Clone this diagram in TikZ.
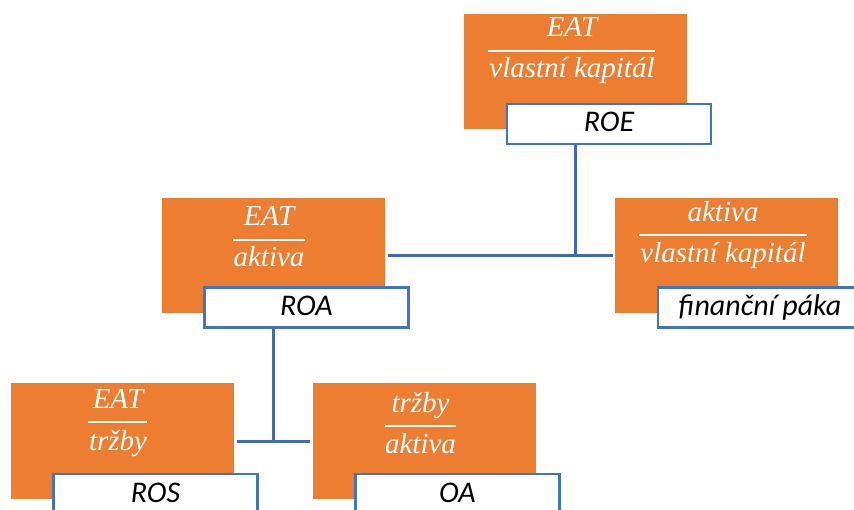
\documentclass[tikz,border=0pt]{standalone}
\usepackage{fontspec}
\setmainfont{Liberation Serif}
\newfontfamily\lblfont{Carlito}
\definecolor{boxorange}{HTML}{ED7D31}
\definecolor{boxblue}{HTML}{4472C4}
\definecolor{lineblue}{HTML}{4169B4}
\begin{document}
\begin{tikzpicture}[x=1pt,y=-1pt,
  obox/.style={rectangle,fill=boxorange,draw=none,inner sep=0pt,minimum width=223pt,minimum height=115pt},
  wbox/.style={rectangle,fill=white,draw=boxblue,line width=2.5pt,inner sep=0pt,minimum width=204pt,minimum height=40pt,
    font=\lblfont\itshape\fontsize{30}{32}\selectfont,text height=21pt,text depth=5pt},
  fractxt/.style={anchor=base,inner sep=0pt,text=white,font=\itshape\fontsize{29}{31}\selectfont},
  fracline/.style={draw=white,line width=1.8pt},
  conn/.style={draw=lineblue,line width=3pt}]
\useasboundingbox (0,0) rectangle (854,510);
\clip (0,0) rectangle (854,510);
% orange boxes
\node[obox] (o1) at (575.5,71.5) {};
\node[obox] (o2) at (273,255.5) {};
\node[obox] (o3) at (726.5,255.5) {};
\node[obox] (o4) at (122,441) {};
\node[obox] (o5) at (424.5,441) {};
% fractions
\node[fractxt] (n1) at (572,37) {EAT};
\draw[fracline] (488,51) -- (655,51);
\node[fractxt] (d1) at (572,78) {vlastní kapitál};
\node[fractxt] (n2) at (269,226) {EAT};
\draw[fracline] (233,240) -- (305,240);
\node[fractxt] (d2) at (269,267) {aktiva};
\node[fractxt] (n3) at (723,222) {aktiva};
\draw[fracline] (639,235) -- (807,235);
\node[fractxt] (d3) at (723,263) {vlastní kapitál};
\node[fractxt] (n4) at (118,408) {EAT};
\draw[fracline] (88,422) -- (147,422);
\node[fractxt] (d4) at (118,450) {tržby};
\node[fractxt] (n5) at (420.5,413) {tržby};
\draw[fracline] (385,426) -- (456,426);
\node[fractxt] (d5) at (420.5,453) {aktiva};
% connectors
\coordinate (j1) at (o1.center |- o2.east);
\coordinate (j2) at (o2.center |- o4.east);
% white label boxes
\node[wbox] (w1) at (609,124) {ROE};
\node[wbox] (w2) at (306.5,307.5) {ROA};
\node[wbox] (w3) at (760,307.5) {finanční páka};
\node[wbox] (w4) at (155.5,494) {ROS};
\node[wbox] (w5) at (457.5,494) {OA};
\draw[conn] (w1.south -| j1) -- (j1);
\draw[conn] ([xshift=3pt]o2.east) -- ([xshift=-2pt]o3.west);
\draw[conn] (w2.south -| j2) -- (j2);
\draw[conn] ([xshift=3pt]o4.east) -- ([xshift=-3pt]o5.west);
\end{tikzpicture}
\end{document}
